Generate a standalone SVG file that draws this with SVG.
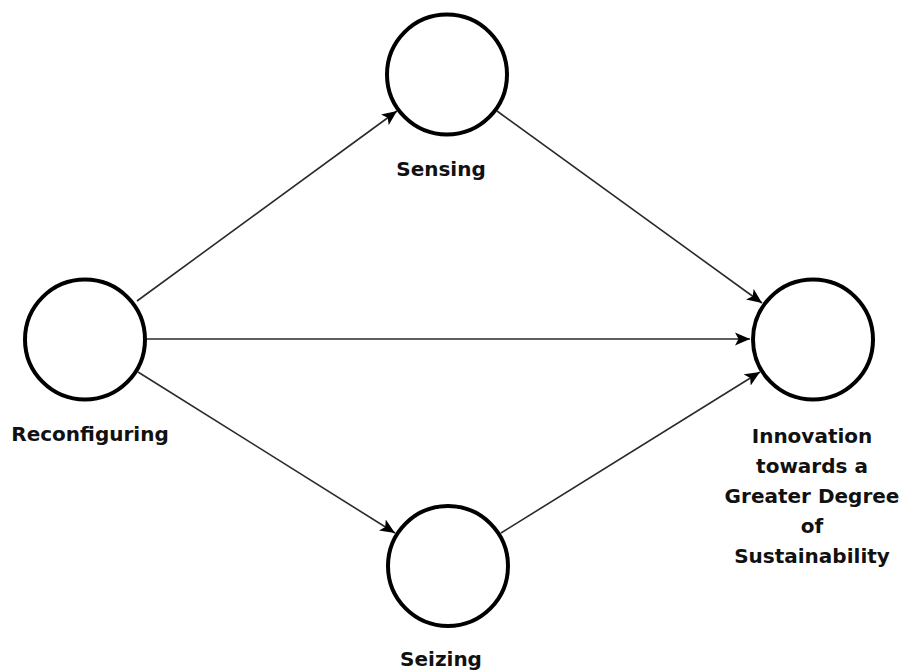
<svg xmlns="http://www.w3.org/2000/svg" width="902" height="672" viewBox="0 0 902 672">
  <style>
    .node { fill: #ffffff; stroke: #000000; stroke-width: 4; }
    .edge { stroke: #2a2a2a; stroke-width: 1.6; fill: none; marker-end: url(#arrow); }
    .label { font-family: "DejaVu Sans", Verdana, sans-serif; font-weight: bold; font-size: 20px; fill: #111111; text-anchor: middle; }
  </style>
  <defs>
    <marker id="arrow" markerUnits="userSpaceOnUse" markerWidth="16" markerHeight="14" viewBox="0 0 16 14" refX="15" refY="7" orient="auto">
      <path d="M0,0.5 L15,7 L0,13.5 L3.5,7 Z" fill="#000000"/>
    </marker>
  </defs>
  <rect width="902" height="672" fill="#ffffff"/>

  <!-- connectors, centre to centre, clipped at the circle rims -->
  <g id="connectors">
    <line class="edge" x1="137" y1="301" x2="397" y2="111"/>
    <line class="edge" x1="147" y1="339" x2="750" y2="339"/>
    <line class="edge" x1="138" y1="372" x2="395" y2="533"/>
    <line class="edge" x1="497" y1="111" x2="762" y2="303"/>
    <line class="edge" x1="501" y1="533" x2="760" y2="372"/>
  </g>

  <g id="sensing">
    <circle class="node" cx="447" cy="74.5" r="60"/>
    <text class="label" x="441" y="176">Sensing</text>
  </g>

  <g id="reconfiguring">
    <circle class="node" cx="85" cy="339.5" r="60"/>
    <text class="label" x="90" y="441">Reconfiguring</text>
  </g>

  <g id="seizing">
    <circle class="node" cx="448" cy="566" r="60"/>
    <text class="label" x="441" y="666">Seizing</text>
  </g>

  <g id="innovation">
    <circle class="node" cx="813" cy="339.5" r="60"/>
    <text class="label" x="812" y="443">Innovation</text>
    <text class="label" x="812" y="473">towards a</text>
    <text class="label" x="812" y="503">Greater Degree</text>
    <text class="label" x="812" y="533">of</text>
    <text class="label" x="812" y="563">Sustainability</text>
  </g>
</svg>
